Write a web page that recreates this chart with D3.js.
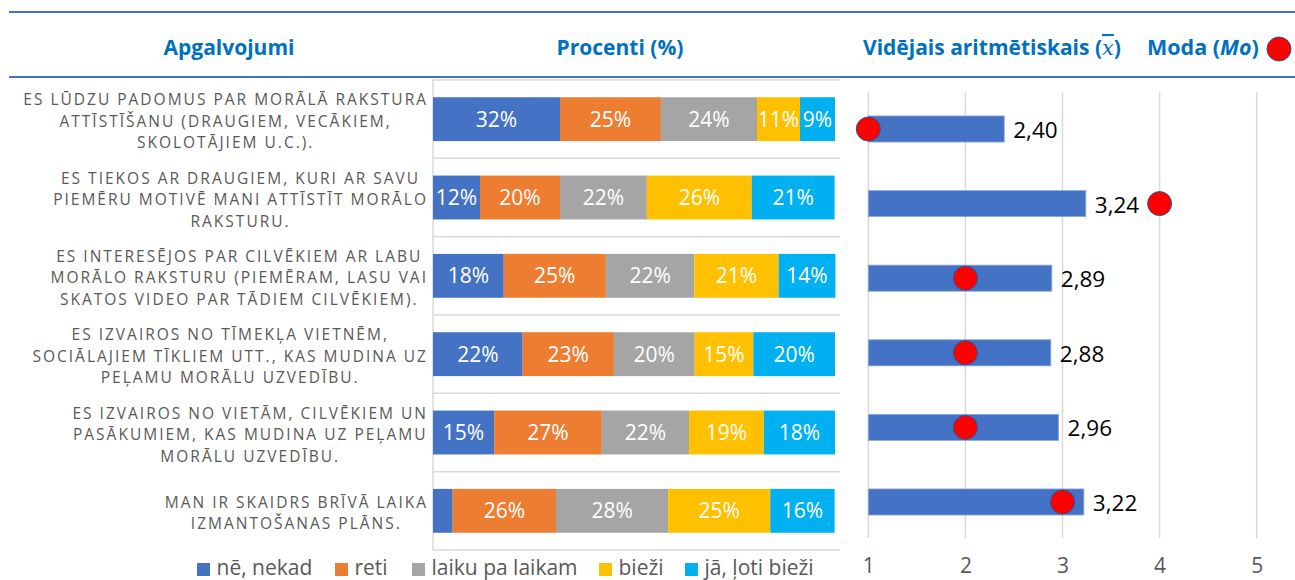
<!DOCTYPE html>
<html>
<head>
<meta charset="utf-8">
<script src="https://cdn.jsdelivr.net/npm/d3@7"></script>
<style>
  body { margin: 0; background: #fff; }
  text { font-family: "Open Sans", "Noto Sans", sans-serif; }
</style>
</head>
<body>
<div id="chart"></div>
<script>
// statements (each one split in lines like in the original)
var statements = [
  ["ES LŪDZU PADOMUS PAR MORĀLĀ RAKSTURA", "ATTĪSTĪŠANU (DRAUGIEM, VECĀKIEM,", "SKOLOTĀJIEM U.C.)."],
  ["ES TIEKOS AR DRAUGIEM, KURI AR SAVU", "PIEMĒRU MOTIVĒ MANI ATTĪSTĪT MORĀLO", "RAKSTURU."],
  ["ES INTERESĒJOS PAR CILVĒKIEM AR LABU", "MORĀLO RAKSTURU (PIEMĒRAM, LASU VAI", "SKATOS VIDEO PAR TĀDIEM CILVĒKIEM)."],
  ["ES IZVAIROS NO TĪMEKĻA VIETNĒM,", "SOCIĀLAJIEM TĪKLIEM UTT., KAS MUDINA UZ", "PEĻAMU MORĀLU UZVEDĪBU."],
  ["ES IZVAIROS NO VIETĀM, CILVĒKIEM UN", "PASĀKUMIEM, KAS MUDINA UZ PEĻAMU", "MORĀLU UZVEDĪBU."],
  ["MAN IR SKAIDRS BRĪVĀ LAIKA", "IZMANTOŠANAS PLĀNS."]
];

var answers = ["nē, nekad", "reti", "laiku pa laikam", "bieži", "jā, ļoti bieži"];
var answerColors = ["#4472C4", "#ED7D31", "#A5A5A5", "#FFC000", "#00B0F0"];

// percentages per statement, same order as answers
var neNekad       = [31.6, 11.7, 17.6, 22.3, 15.2, 4.9];
var reti          = [25.1, 19.9, 25.4, 22.7, 26.8, 25.7];
var laikuPaLaikam = [23.9, 21.6, 22.0, 20.1, 21.7, 27.9];
var biezi         = [10.7, 26.1, 21.0, 14.6, 18.6, 25.4];
var jaLotiBiezi   = [8.7, 20.6, 14.1, 20.3, 17.7, 16.0];

var means = [2.40, 3.24, 2.89, 2.88, 2.96, 3.22];
var modes = [1, 4, 2, 2, 2, 3];
var meanTicks = [1, 2, 3, 4, 5];

var W = 1295, H = 580;
var svg = d3.select("#chart").append("svg").attr("width", W).attr("height", H);

var blueTitle = "#0070C0", gray = "#595959", gridC = "#D9D9D9";

// header
svg.append("line").attr("x1", 9).attr("x2", W).attr("y1", 12).attr("y2", 12)
  .attr("stroke", "#4472C4").attr("stroke-width", 2);
svg.append("line").attr("x1", 9).attr("x2", W).attr("y1", 77).attr("y2", 77)
  .attr("stroke", "#4472C4").attr("stroke-width", 2);

var head = svg.append("g").attr("font-weight", "bold").attr("font-size", 21).attr("fill", blueTitle);
head.append("text").attr("x", 229).attr("y", 55).attr("text-anchor", "middle").text("Apgalvojumi");
head.append("text").attr("x", 620).attr("y", 55).attr("text-anchor", "middle").text("Procenti (%)");
var t1 = head.append("text").attr("x", 863).attr("y", 55);
t1.append("tspan").text("Vidējais aritmētiskais (");
t1.append("tspan").attr("font-style", "italic").attr("font-family", "DejaVu Serif").attr("font-weight", "normal")
  .style("text-decoration", "overline").text("x");
t1.append("tspan").text(")");
var t2 = head.append("text").attr("x", 1147).attr("y", 55).attr("font-size", 21.5);
t2.append("tspan").text("Moda (");
t2.append("tspan").attr("font-style", "italic").text("Mo");
t2.append("tspan").text(")");
svg.append("circle").attr("cx", 1279).attr("cy", 49).attr("r", 12)
  .attr("fill", "#FF0000").attr("stroke", "#2F528F").attr("stroke-width", 1);

// stacked percentage chart
var rows = statements.map(function (s, i) {
  return {
    idx: i,
    "nē, nekad": neNekad[i], "reti": reti[i], "laiku pa laikam": laikuPaLaikam[i],
    "bieži": biezi[i], "jā, ļoti bieži": jaLotiBiezi[i]
  };
});

var x = d3.scaleLinear().domain([0, 100]).range([433, 835]);
var y = d3.scaleBand().domain(d3.range(statements.length)).range([80, 550])
  .paddingInner(0.44).paddingOuter(0.22);
var step = y.step();

// gridlines
svg.append("g").selectAll("line").data(d3.range(statements.length + 1)).join("line")
  .attr("x1", 433).attr("x2", 840)
  .attr("y1", function (d) { return 80 + d * step; })
  .attr("y2", function (d) { return 80 + d * step; })
  .attr("stroke", gridC).attr("stroke-width", 1.5);
svg.append("line").attr("x1", 433).attr("x2", 433).attr("y1", 80).attr("y2", 550)
  .attr("stroke", gridC).attr("stroke-width", 1.5);

var stack = d3.stack().keys(answers)(rows);

var layer = svg.append("g").selectAll("g").data(stack).join("g")
  .attr("fill", function (d, i) { return answerColors[i]; });
layer.selectAll("rect").data(function (d) { return d; }).join("rect")
  .attr("x", function (d) { return x(d[0]); })
  .attr("width", function (d) { return x(d[1]) - x(d[0]); })
  .attr("y", function (d) { return y(d.data.idx); })
  .attr("height", y.bandwidth());

var pct = d3.format(".0f");
layer.selectAll("text").data(function (d) { return d.filter(function (e) { return e[1] - e[0] > 6; }); })
  .join("text")
  .attr("x", function (d) { return (x(d[0]) + x(d[1])) / 2; })
  .attr("y", function (d) { return y(d.data.idx) + y.bandwidth() / 2 + 7.5; })
  .attr("text-anchor", "middle").attr("fill", "#fff").attr("font-size", 21)
  .text(function (d) { return pct(d[1] - d[0]) + "%"; });

// statement labels: block right aligned, lines centred in block
var lab = svg.append("g").attr("font-size", 15.5).attr("fill", gray).attr("letter-spacing", 2.0);
statements.forEach(function (lines, i) {
  var g = lab.append("g");
  var cy = y(i) + y.bandwidth() / 2 + 2;
  var lh = 21.5;
  var texts = lines.map(function (l, k) {
    return g.append("text").attr("text-anchor", "middle")
      .attr("y", cy + (k - (lines.length - 1) / 2) * lh + 5.5).text(l);
  });
  var maxW = d3.max(texts, function (t) { return t.node().getComputedTextLength(); });
  texts.forEach(function (t) { t.attr("x", 428 - maxW / 2); });
});

// legend
var legX = [197, 335, 412, 599, 685];
var leg = svg.append("g").selectAll("g").data(answers).join("g")
  .attr("transform", function (d, i) { return "translate(" + legX[i] + ",0)"; });
leg.append("rect").attr("y", 563).attr("width", 13).attr("height", 13)
  .attr("fill", function (d, i) { return answerColors[i]; });
leg.append("text").attr("x", 19.5).attr("y", 575).attr("font-size", 21).attr("fill", gray)
  .text(function (d) { return d; });

// mean + mode chart
var xm = d3.scaleLinear().domain([1, 5]).range([868.3, 1256.7]);
var ym = d3.scaleBand().domain(d3.range(means.length)).range([91.7, 539.3])
  .paddingInner(0.65).paddingOuter(0.325);

svg.append("g").selectAll("line").data(meanTicks).join("line")
  .attr("x1", xm).attr("x2", xm).attr("y1", 92).attr("y2", 538)
  .attr("stroke", gridC).attr("stroke-width", 1.5);

var axis = d3.axisBottom(xm).tickValues(meanTicks).tickSize(0).tickPadding(0)
  .tickFormat(d3.format("d"));
var ax = svg.append("g").attr("transform", "translate(0,558)").call(axis);
ax.select(".domain").remove();
ax.selectAll("text").attr("font-size", 21).attr("fill", gray)
  .attr("font-family", "Open Sans, sans-serif");

var comma = d3.formatLocale({ decimal: ",", thousands: " ", grouping: [3], currency: ["", ""] }).format(".2f");

svg.append("g").selectAll("rect").data(means).join("rect")
  .attr("x", xm(1)).attr("y", function (d, i) { return ym(i); })
  .attr("width", function (d) { return xm(d) - xm(1); })
  .attr("height", ym.bandwidth())
  .attr("fill", "#4472C4").attr("stroke", "#8FAADC").attr("stroke-width", 0.8);

svg.append("g").selectAll("text").data(means).join("text")
  .attr("x", function (d) { return xm(d) + 9; })
  .attr("y", function (d, i) { return ym(i) + ym.bandwidth() / 2 + 9; })
  .attr("font-size", 22.5).attr("fill", "#000")
  .text(function (d) { return comma(d); });

svg.append("g").selectAll("circle").data(modes).join("circle")
  .attr("cx", function (d) { return xm(d); })
  .attr("cy", function (d, i) { return ym(i) + ym.bandwidth() / 2; })
  .attr("r", 12)
  .attr("fill", "#FF0000").attr("stroke", "#2F528F").attr("stroke-width", 1);
</script>
</body>
</html>
